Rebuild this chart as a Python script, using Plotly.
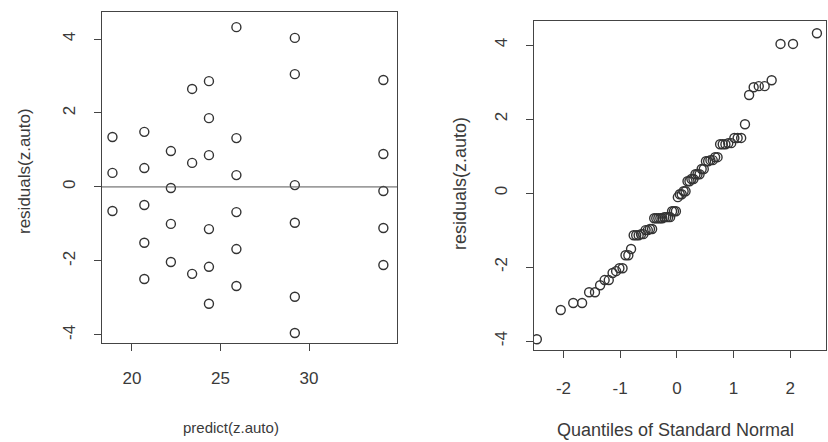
import plotly.graph_objects as go
from statistics import NormalDist

# Fitted values of the model (one per distinct prediction)
fitted = [18.9, 20.7, 22.2, 23.4, 24.35, 25.9, 29.2, 34.2]

# Residual levels observed at each fitted value, and how many cars sit on each level
res_levels = [
    [1.35, 0.38, -0.65],
    [1.49, 0.51, -0.49, -1.51, -2.49],
    [0.97, -0.03, -1.00, -2.03],
    [2.65, 0.65, -2.35],
    [2.86, 1.86, 0.86, -1.14, -2.16, -3.16],
    [4.32, 1.32, 0.32, -0.68, -1.68, -2.68],
    [4.03, 3.05, 0.05, -0.97, -2.97, -3.95],
    [2.89, 0.89, -0.11, -1.11, -2.11],
]
res_counts = [
    [2, 2, 4],
    [3, 3, 3, 1, 1],
    [2, 2, 2, 2],
    [1, 2, 2],
    [1, 1, 2, 3, 1, 1],
    [1, 3, 2, 5, 2, 2],
    [2, 1, 2, 2, 2, 1],
    [2, 2, 1, 2, 1],
]

x_ticks_left = [20, 25, 30]
x_labels_left = ["20", "25", "30"]
y_ticks = [-4, -2, 0, 2, 4]
y_labels = ["-4", "-2", "0", "2", "4"]
x_ticks_right = [-2, -1, 0, 1, 2]
x_labels_right = ["-2", "-1", "0", "1", "2"]

# Residual vs fitted: tied observations print on top of each other, so one mark per level
pred_pts, resid_pts = [], []
for f, levels in zip(fitted, res_levels):
    for r in levels:
        pred_pts.append(f)
        resid_pts.append(r)

# Full sample, one record per observation
resid = []
for levels, counts in zip(res_levels, res_counts):
    for r, c in zip(levels, counts):
        resid += [r] * c

# Normal QQ: sorted residuals against standard normal quantiles (ppoints, a = 0.5)
n = len(resid)
sorted_resid = sorted(resid)
theo_q = [NormalDist().inv_cdf((i - 0.5) / n) for i in range(1, n + 1)]

W, H = 828, 442
FONT = "Liberation Sans, Arial, Helvetica, sans-serif"
INK = "#3a3a3a"

marker = dict(symbol="circle-open", size=9, color="#333333", line=dict(width=1.4, color="#333333"))

fig = go.Figure()
fig.add_trace(go.Scatter(x=pred_pts, y=resid_pts, mode="markers", marker=marker,
                         xaxis="x", yaxis="y", showlegend=False))
fig.add_trace(go.Scatter(x=theo_q, y=sorted_resid, mode="markers", marker=marker,
                         xaxis="x2", yaxis="y2", showlegend=False))

axis_common = dict(
    showline=True, mirror=True, linecolor="#444444", linewidth=1.2,
    ticks="outside", ticklen=7, tickwidth=1, tickcolor="#444444",
    showgrid=False, zeroline=False,
    tickfont=dict(family=FONT, size=17, color=INK),
)

def px_x(a, b):
    return [a / W, b / W]

def px_y(top, bottom):
    return [1 - bottom / H, 1 - top / H]

fig.update_layout(
    width=W, height=H,
    margin=dict(l=0, r=0, t=0, b=0),
    paper_bgcolor="white", plot_bgcolor="white",
    xaxis=dict(axis_common, domain=px_x(102, 397), range=[18.31, 34.97],
               tickvals=x_ticks_left, ticktext=x_labels_left, anchor="y", ticklabelstandoff=12),
    yaxis=dict(axis_common, domain=px_y(12, 343), range=[-4.22, 4.73],
               tickvals=y_ticks, ticktext=y_labels, tickangle=-90, anchor="x", ticklabelstandoff=12),
    xaxis2=dict(axis_common, domain=px_x(534, 826), range=[-2.52, 2.63],
                tickvals=x_ticks_right, ticktext=x_labels_right, anchor="y2", ticklabelstandoff=15),
    yaxis2=dict(axis_common, domain=px_y(21, 350), range=[-4.24, 4.65],
                tickvals=y_ticks, ticktext=y_labels, tickangle=-90, anchor="x2", ticklabelstandoff=12),
)

# Reference line at zero residual
fig.add_shape(type="line", xref="x domain", yref="y", x0=0, x1=1, y0=0, y1=0,
              line=dict(color="#555555", width=1))

def label(text, cx, cy, size, angle=0):
    fig.add_annotation(text=text, x=cx / W, y=1 - cy / H, xref="paper", yref="paper",
                       xanchor="center", yanchor="middle", showarrow=False, textangle=angle,
                       font=dict(family=FONT, size=size, color=INK))

label("predict(z.auto)", 231, 427, 15)
label("residuals(z.auto)", 25, 171, 17, -90)
label("Quantiles of Standard Normal", 675, 430, 18)
label("residuals(z.auto)", 460, 184, 18, -90)

fig.write_html("out.html")
